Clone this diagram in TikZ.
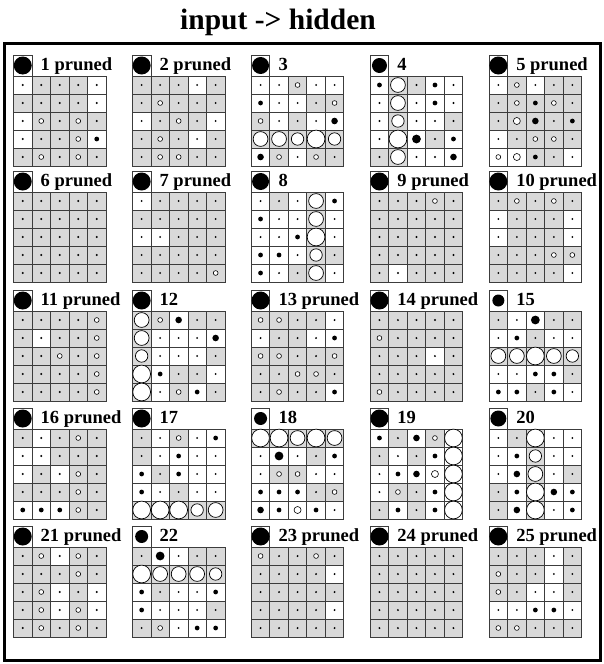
\documentclass[tikz,border=0pt]{standalone}
\usepackage{fontspec}
\setmainfont{Liberation Serif}
\usetikzlibrary{positioning}
\definecolor{cellgrey}{RGB}{217,217,217}
\definecolor{gridline}{RGB}{60,60,60}

% one cell: background letter (g/w) and weight letter
\def\hcell#1#2#3\relax{%
  \ifx g#1\fill[cellgrey] (\cc*18.5,21+\rr*18) rectangle ++(18.5,18);\fi
  \draw[gridcell] (\cc*18.5,21+\rr*18) rectangle ++(18.5,18);
  \path[wt#2] (\cc*18.5+9.25,21+\rr*18+9) circle;
}
% name, x, y, label, bias radius, 25 cells
\newcommand{\hpanel}[6]{%
  \begin{scope}[shift={(#2,#3)}]
    \draw[biasbox] (0,0) rectangle (18.5,21);
    \fill (9.25,10.5) circle[radius=#5];
    \node[plabel] (#1) at (27,15) {#4};
    \foreach \c [count=\k from 0] in {#6} {
      \pgfmathtruncatemacro\cc{mod(\k,5)}
      \pgfmathtruncatemacro\rr{div(\k,5)}
      \expandafter\hcell\c\relax
    }
  \end{scope}
}

\begin{document}
\begin{tikzpicture}[x=1pt, y=-1pt,
  plabel/.style={anchor=base west, inner sep=0pt, font=\fontsize{18.5}{18.5}\selectfont\bfseries},
  biasbox/.style={draw=gridline, line width=0.8pt},
  gridcell/.style={draw=gridline, line width=0.8pt},
  wta/.style={fill=black, radius=1.05},
  wtb/.style={fill=black, radius=2.4},
  wtc/.style={fill=black, radius=3.3},
  wtd/.style={fill=black, radius=4.4},
  wto/.style={draw, fill=white, radius=2.4, line width=0.6pt},
  wtm/.style={draw, fill=white, radius=3.5, line width=0.6pt},
  wtp/.style={draw, fill=white, radius=6.2, line width=0.7pt},
  wtq/.style={draw, fill=white, radius=7.4, line width=0.7pt},
  wtQ/.style={draw, fill=white, radius=8.9, line width=0.7pt}]
\useasboundingbox (0,0) rectangle (604,664);
\node[font=\fontsize{29.5}{29.5}\selectfont\bfseries] (title) at (278,22) {input -> hidden};
\draw[line width=3pt] (4,43) rectangle (600,660);

% row 1
\hpanel{p1}{13.5}{55}{1 pruned}{9}{wa,ga,ga,ga,wa, ga,ga,ga,ga,wa, wa,go,ga,go,ga, wa,ga,ga,go,wb, ga,go,ga,go,ga}
\hpanel{p2}{132.4}{55}{2 pruned}{9}{ga,ga,ga,wa,ga, ga,go,ga,ga,ga, wa,ga,go,ga,wa, ga,go,ga,wa,ga, ga,go,go,ga,ga}
\hpanel{p3}{251.3}{55}{3}{8.5}{wa,wa,go,wa,wa, wb,wa,wa,ga,go, go,wa,ga,wa,wc, gq,gq,gp,gQ,gp, wc,go,wa,go,ga}
\hpanel{p4}{370.2}{55}{4}{7.5}{wb,gq,ga,wb,wa, wa,gq,wa,wb,wa, wa,gp,wa,wa,ga, wa,gQ,wd,ga,wb, ga,gq,wa,wa,wc}
\hpanel{p5}{489.1}{55}{5 pruned}{9}{wa,go,wa,ga,ga, ga,go,gb,go,ga, ga,gm,gc,ga,gb, wa,ga,go,go,ga, wo,wm,gb,ga,wa}
% row 2
\hpanel{p6}{13.5}{171}{6 pruned}{9}{ga,ga,ga,ga,ga, ga,ga,ga,ga,ga, ga,ga,ga,ga,ga, ga,ga,ga,ga,ga, ga,ga,ga,ga,ga}
\hpanel{p7}{132.4}{171}{7 pruned}{9}{wa,ga,ga,ga,ga, ga,ga,ga,ga,ga, wa,wa,ga,ga,ga, ga,ga,ga,ga,ga, ga,ga,ga,ga,go}
\hpanel{p8}{251.3}{171}{8}{8.5}{wa,ga,wa,gq,wb, wb,wa,wa,gq,wa, wa,wa,wb,gQ,wa, wb,wb,wa,gp,ga, wb,wa,ga,gq,wa}
\hpanel{p9}{370.2}{171}{9 pruned}{9}{ga,ga,ga,go,ga, ga,ga,ga,ga,ga, ga,ga,ga,ga,ga, ga,ga,ga,ga,ga, ga,wa,ga,ga,ga}
\hpanel{p10}{489.1}{171}{10 pruned}{9}{ga,go,ga,go,ga, wa,ga,ga,ga,wa, wa,ga,ga,ga,wa, ga,ga,ga,go,go, ga,ga,ga,ga,wa}
% row 3
\hpanel{p11}{13.5}{290}{11 pruned}{9}{ga,ga,ga,ga,go, ga,wa,ga,ga,go, ga,ga,go,ga,go, ga,ga,ga,ga,go, ga,ga,ga,ga,go}
\hpanel{p12}{132.4}{290}{12}{9}{gq,go,wc,ga,ga, gq,wa,wa,wa,wc, gp,wa,wa,wa,ga, gQ,wb,ga,ga,wa, gQ,wa,go,wb,ga}
\hpanel{p13}{251.3}{290}{13 pruned}{9}{go,go,ga,ga,wa, wa,ga,ga,wa,wb, go,go,ga,ga,go, ga,ga,go,go,ga, ga,go,ga,ga,wb}
\hpanel{p14}{370.2}{290}{14 pruned}{9}{ga,ga,ga,ga,ga, go,ga,ga,ga,ga, ga,ga,ga,wa,ga, ga,ga,ga,ga,ga, go,ga,ga,ga,ga}
\hpanel{p15}{489.1}{290}{15}{6}{ga,wa,wd,ga,ga, wa,wb,ga,wa,wa, gq,gq,gQ,gq,gp, wa,wa,wb,wb,ga, wb,wb,ga,wb,wa}
% row 4
\hpanel{p16}{13.5}{408}{16 pruned}{9}{ga,wa,ga,go,ga, wa,wa,ga,ga,ga, wa,ga,wa,go,ga, ga,ga,ga,go,ga, wb,wb,wb,go,ga}
\hpanel{p17}{132.4}{408}{17}{9}{ga,wa,go,wa,wb, ga,wa,wb,wa,wa, wb,ga,wb,wa,wa, wb,wa,ga,wa,wa, gQ,gQ,gQ,gp,gq}
\hpanel{p18}{251.3}{408}{18}{6.5}{gQ,gQ,gq,gQ,gq, wa,wd,wa,ga,wb, wa,go,go,wa,wa, wb,wb,wb,ga,go, wc,wb,wm,wb,wa}
\hpanel{p19}{370.2}{408}{19}{9}{wb,ga,wc,go,wQ, ga,wa,ga,wb,wQ, wa,wb,wc,wm,wQ, wa,go,ga,wb,wQ, ga,wb,ga,wb,wQ}
\hpanel{p20}{489.1}{408}{20}{8}{wa,ga,gQ,wa,wa, wa,wb,gp,wa,wa, wa,wc,gq,wa,ga, ga,wb,gQ,wc,wb, ga,wc,gQ,wa,wb}
% row 5
\hpanel{p21}{13.5}{526}{21 pruned}{9}{ga,go,wa,go,ga, ga,ga,ga,go,ga, ga,go,wa,ga,wa, ga,go,wa,go,wa, ga,go,ga,go,ga}
\hpanel{p22}{132.4}{526}{22}{6.5}{ga,wd,wa,ga,ga, gQ,gq,gq,gq,gp, wb,ga,wa,wa,wb, wb,wa,wa,wa,ga, ga,go,wa,wb,wb}
\hpanel{p23}{251.3}{526}{23 pruned}{9}{go,ga,ga,go,ga, ga,ga,ga,ga,wa, ga,ga,ga,ga,ga, ga,ga,ga,ga,wa, ga,ga,ga,ga,ga}
\hpanel{p24}{370.2}{526}{24 pruned}{9}{ga,ga,ga,ga,ga, ga,ga,ga,ga,ga, ga,ga,ga,ga,ga, ga,ga,ga,ga,ga, ga,ga,ga,ga,ga}
\hpanel{p25}{489.1}{526}{25 pruned}{9}{ga,ga,ga,wa,ga, go,ga,ga,wa,ga, go,ga,wa,wa,ga, wa,wa,wb,wb,wa, go,go,ga,ga,ga}
\end{tikzpicture}
\end{document}
